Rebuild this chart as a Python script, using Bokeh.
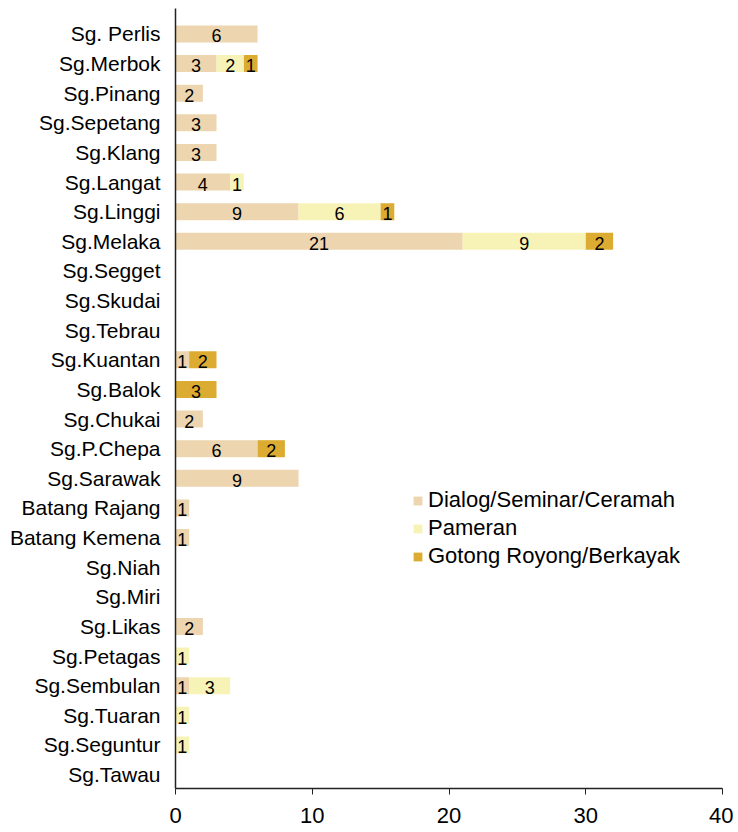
from bokeh.plotting import figure
from bokeh.models import ColumnDataSource, Range1d, FixedTicker, Legend, LegendItem
from bokeh.core.properties import value
from bokeh.embed import file_html
from bokeh.resources import INLINE

categories = ["Sg. Perlis", "Sg.Merbok", "Sg.Pinang", "Sg.Sepetang", "Sg.Klang", "Sg.Langat",
              "Sg.Linggi", "Sg.Melaka", "Sg.Segget", "Sg.Skudai", "Sg.Tebrau", "Sg.Kuantan",
              "Sg.Balok", "Sg.Chukai", "Sg.P.Chepa", "Sg.Sarawak", "Batang Rajang",
              "Batang Kemena", "Sg.Niah", "Sg.Miri", "Sg.Likas", "Sg.Petagas", "Sg.Sembulan",
              "Sg.Tuaran", "Sg.Seguntur", "Sg.Tawau"]
dialog = [6, 3, 2, 3, 3, 4, 9, 21, 0, 0, 0, 1, 0, 2, 6, 9, 1, 1, 0, 0, 2, 0, 1, 0, 0, 0]
pameran = [0, 2, 0, 0, 0, 1, 6, 9, 0, 0, 0, 0, 0, 0, 0, 0, 0, 0, 0, 0, 0, 1, 3, 1, 1, 0]
gotong = [0, 1, 0, 0, 0, 0, 1, 2, 0, 0, 0, 2, 3, 0, 2, 0, 0, 0, 0, 0, 0, 0, 0, 0, 0, 0]
series_names = ["Dialog/Seminar/Ceramah", "Pameran", "Gotong Royong/Berkayak"]
x_ticks = [0, 10, 20, 30, 40]

colors = ["#EDD5AF", "#F7F3B7", "#DCAC32"]
FONT = "Liberation Sans"

idx = list(range(len(categories)))
series = [dialog, pameran, gotong]

p = figure(width=733, height=828, output_backend="svg", toolbar_location=None,
           x_range=Range1d(0, 40), y_range=Range1d(25.47, -0.86),
           min_border_left=175, min_border_right=11, min_border_top=8, min_border_bottom=40)

renderers = []
lefts = [0] * len(categories)
lab_x, lab_y, lab_t = [], [], []
for vals, col in zip(series, colors):
    rights = [l + v for l, v in zip(lefts, vals)]
    src = ColumnDataSource(dict(y=idx, left=lefts, right=rights))
    r = p.hbar(y="y", left="left", right="right", height=0.575, source=src,
               fill_color=col, line_color=None)
    renderers.append(r)
    for i, (l, v) in enumerate(zip(lefts, vals)):
        if v > 0:
            lab_x.append(l + v / 2)
            lab_y.append(i)
            lab_t.append(str(v))
    lefts = rights

p.text(x=lab_x, y=lab_y, text=lab_t, text_align="center", text_baseline="middle",
       text_font=value(FONT), text_font_size="18px", text_color="#000000", y_offset=2)

legend = Legend(items=[LegendItem(label=n, renderers=[r]) for n, r in zip(series_names, renderers)],
                location=(237, 219), border_line_color=None, background_fill_alpha=0,
                label_text_font=FONT, label_text_font_size="22px", label_text_color="#000000",
                glyph_width=11, glyph_height=11, label_standoff=5, spacing=2, padding=0,
                margin=0, label_height=20)
p.add_layout(legend, "center")

p.xgrid.visible = False
p.ygrid.visible = False
p.outline_line_color = None

p.xaxis.ticker = FixedTicker(ticks=x_ticks)
p.xaxis.major_tick_out = 6
p.xaxis.major_tick_in = 0
p.xaxis.minor_tick_line_color = None
p.xaxis.axis_line_color = "#222222"
p.xaxis.axis_line_width = 1.5
p.xaxis.major_tick_line_color = "#222222"
p.xaxis.major_label_text_font = FONT
p.xaxis.major_label_text_font_size = "22px"
p.xaxis.major_label_text_color = "#000000"
p.xaxis.major_label_standoff = 13

p.yaxis.ticker = FixedTicker(ticks=idx)
p.yaxis.major_label_overrides = {i: c for i, c in zip(idx, categories)}
p.yaxis.major_tick_line_color = None
p.yaxis.minor_tick_line_color = None
p.yaxis.axis_line_color = "#222222"
p.yaxis.axis_line_width = 1.5
p.yaxis.major_label_text_font = FONT
p.yaxis.major_label_text_font_size = "21px"
p.yaxis.major_label_text_color = "#000000"
p.yaxis.major_label_standoff = 9

open("out.html", "w").write(file_html(p, INLINE))
